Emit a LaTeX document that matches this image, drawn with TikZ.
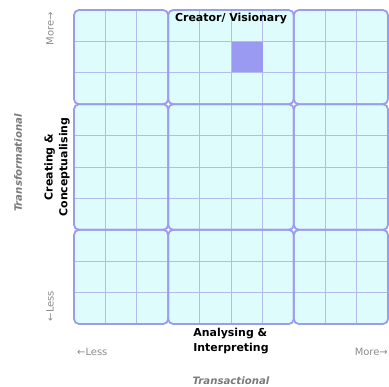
\documentclass[tikz,border=0pt]{standalone}
\usepackage{fontspec}
\setmainfont{DejaVu Sans}
\definecolor{cellfill}{HTML}{DEFCFC}
\definecolor{bigline}{HTML}{9C9CEE}
\definecolor{subline}{HTML}{B4BCEC}
\definecolor{hilite}{HTML}{9A9AF0}
\definecolor{graytxt}{HTML}{8C8C8C}
\definecolor{axistxt}{HTML}{7A7A7A}
\tikzset{
  bigcell/.style={draw=bigline, fill=cellfill, line width=1.8bp, rounded corners=5bp},
  subgrid/.style={draw=subline, line width=0.9bp},
  boldlabel/.style={font=\fontsize{11}{15}\selectfont\bfseries, text=black, inner sep=0pt},
  morelesslabel/.style={font=\fontsize{10}{12}\selectfont, text=graytxt, inner sep=0pt},
  axislabel/.style={font=\fontsize{10.2}{12}\selectfont\bfseries\itshape, text=axistxt, inner sep=0pt},
}
\begin{document}
\begin{tikzpicture}[x=1bp, y=-1bp]
\useasboundingbox (0,0) rectangle (389,387);
\def\cw{31.4}
% big cells
\foreach \ca/\cb in {0/3,3/7,7/10}{
  \foreach \ra/\rb in {0/3,3/7,7/10}{
    \pgfmathsetmacro{\xa}{74+\cw*\ca}
    \pgfmathsetmacro{\xb}{74+\cw*\cb}
    \pgfmathsetmacro{\ya}{10+\cw*\ra}
    \pgfmathsetmacro{\yb}{10+\cw*\rb}
    \fill[cellfill, rounded corners=5bp] (\xa,\ya) rectangle (\xb,\yb);
  }
}
% sub grid lines
\foreach \i in {1,2,4,5,6,8,9}{
  \pgfmathsetmacro{\xx}{74+\cw*\i}
  \draw[subgrid] (\xx,10) -- (\xx,324);
  \draw[subgrid] (74,\xx-64) -- (388,\xx-64);
}
% highlighted cell
\fill[hilite] (231.6,42.4) rectangle (262.6,72.2);
% big cell borders
\foreach \ca/\cb in {0/3,3/7,7/10}{
  \foreach \ra/\rb in {0/3,3/7,7/10}{
    \pgfmathsetmacro{\xa}{74+\cw*\ca}
    \pgfmathsetmacro{\xb}{74+\cw*\cb}
    \pgfmathsetmacro{\ya}{10+\cw*\ra}
    \pgfmathsetmacro{\yb}{10+\cw*\rb}
    \draw[bigline, line width=1.8bp, rounded corners=5bp] (\xa,\ya) rectangle (\xb,\yb);
  }
}
% labels
\node[boldlabel, anchor=north] (creator) at (231,12.5) {Creator/ Visionary};
\node[boldlabel, rotate=90, align=center] (creating) at (57,167) {Creating \&\\Conceptualising};
\node[boldlabel, anchor=north, align=left] (analysing) at (231,328) {Analysing \&\\Interpreting};
\node[morelesslabel, anchor=west] (lessx) at (77,351.5) {←Less};
\node[morelesslabel, anchor=east] (morex) at (388,351.5) {More→};
\node[morelesslabel, rotate=90] (morey) at (50,29) {More→};
\node[morelesslabel, rotate=90] (lessy) at (50,306) {←Less};
\node[axislabel] (transactional) at (231,381) {Transactional};
\node[axislabel, rotate=90] (transformational) at (18,163) {Transformational};
\end{tikzpicture}
\end{document}
